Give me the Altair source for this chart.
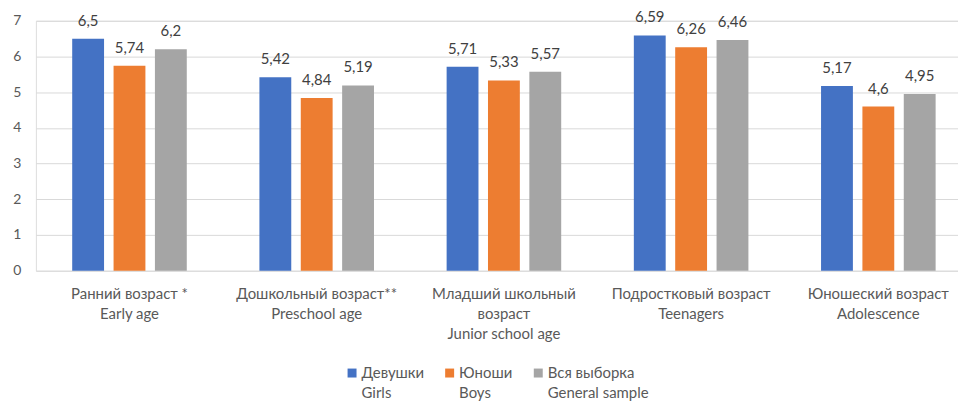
import altair as alt
import pandas as pd

categories = [
    "Ранний возраст *|Early age",
    "Дошкольный возраст**|Preschool age",
    "Младший школьный|возраст|Junior school age",
    "Подростковый возраст|Teenagers",
    "Юношеский возраст|Adolescence",
]
series = ["Девушки|Girls", "Юноши|Boys", "Вся выборка|General sample"]
girls = [6.5, 5.42, 5.71, 6.59, 5.17]
boys = [5.74, 4.84, 5.33, 6.26, 4.6]
general = [6.2, 5.19, 5.57, 6.46, 4.95]
colors = ["#4472C4", "#ED7D31", "#A5A5A5"]
y_ticks = [0, 1, 2, 3, 4, 5, 6, 7]

rows = []
for s, vals in zip(series, [girls, boys, general]):
    for c, v in zip(categories, vals):
        rows.append({"cat": c, "series": s, "value": v,
                     "label": ("%g" % v).replace(".", ",")})
df = pd.DataFrame(rows)

FONT = "Lato"

x = alt.X("cat:N", sort=categories, title=None,
          scale=alt.Scale(range=[0, 940], paddingInner=0.388, paddingOuter=0.194),
          axis=alt.Axis(labelExpr="split(datum.label, '|')", labelAngle=0,
                        labelFont=FONT, labelFontSize=15, labelColor="#595959",
                        labelLineHeight=20, labelPadding=16, ticks=False,
                        domain=False, labelLimit=300))
xo = alt.XOffset("series:N", sort=series,
                 scale=alt.Scale(paddingInner=0.23, paddingOuter=0))
y = alt.Y("value:Q", title=None,
          scale=alt.Scale(domain=[0, 7], nice=False),
          axis=alt.Axis(values=y_ticks, labelFont=FONT, labelFontSize=14,
                        labelColor="#595959", ticks=False, domain=False,
                        labelPadding=15, gridColor="#D9D9D9", gridWidth=1))

base = alt.Chart(df)

bars = base.mark_bar().encode(
    x=x, xOffset=xo, y=y,
    color=alt.Color("series:N", sort=series,
                    scale=alt.Scale(domain=series, range=colors),
                    legend=alt.Legend(
                        title=None, orient="none", direction="horizontal",
                        legendX=310, legendY=346, symbolType="square",
                        symbolSize=81, symbolStrokeWidth=0,
                        labelExpr="split(datum.label, '|')",
                        labelFont=FONT, labelFontSize=15, labelColor="#595959",
                        labelOffset=2, columnPadding=18, padding=0,
                        labelLimit=300)),
)

text = base.mark_text(baseline="alphabetic", dy=-13, font=FONT, fontSize=15,
                      color="#404040").encode(
    x=x, xOffset=xo, y=y, text="label:N")

chart = (bars + text).properties(
    width=926, height=251,
    autosize=alt.AutoSizeParams(type="none"),
    padding={"left": 28, "top": 12, "right": 0, "bottom": 130},
).configure_view(stroke=None).configure(
    style={"guide-label": {"lineHeight": 20}}
)

chart.save("out.html", embed_options={"renderer": "svg", "actions": False})
